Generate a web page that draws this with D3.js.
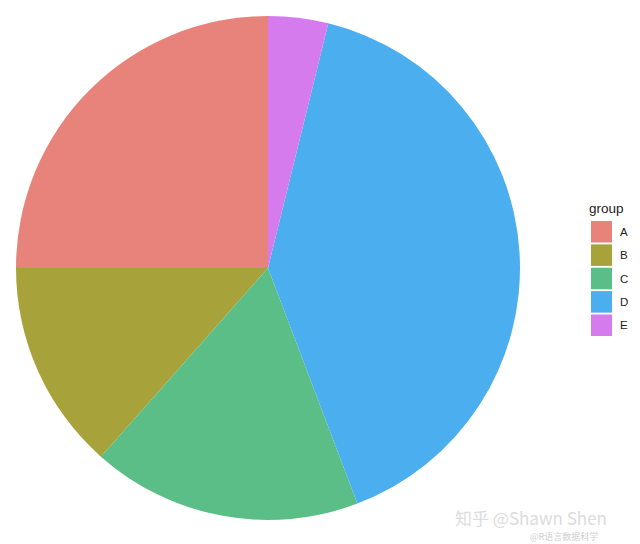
<!DOCTYPE html>
<html><head><meta charset="utf-8">
<script src="https://cdn.jsdelivr.net/npm/d3@7"></script>
<style>body{margin:0;background:#fff;}svg{display:block;}</style>
</head><body>
<svg id="chart" width="640" height="544"></svg>
<script>
const groups = ["A","B","C","D","E"];
const values = [13, 7, 9, 21, 2];
const colors = ["#E7837A","#A8A23A","#5BBE86","#4BAEEE","#D67BEE"];
const legendTitle = "group";

const svg = d3.select("#chart");
const cx = 268, cy = 268, r = 252;
const color = d3.scaleOrdinal().domain(groups).range(colors);
const pie = d3.pie().sort(null).value(d => d.v).startAngle(0).endAngle(-2*Math.PI);
const data = groups.map((g,i)=>({g, v: values[i]}));
const arc = d3.arc().innerRadius(0).outerRadius(r);
svg.append("g").attr("transform",`translate(${cx},${cy})`)
  .selectAll("path").data(pie(data)).join("path")
  .attr("d", arc).attr("fill", d => color(d.data.g));

const lg = svg.append("g").attr("transform","translate(589,0)");
lg.append("text").attr("x",0).attr("y",213).attr("font-family","Liberation Sans, Arial, sans-serif")
  .attr("font-size",13.5).attr("fill","#222").text(legendTitle);
const ky = d3.scaleBand().domain(groups).range([221,336]).paddingInner(0.08);
lg.selectAll("rect").data(groups).join("rect")
  .attr("x",2).attr("y",d=>ky(d)).attr("width",21).attr("height",ky.bandwidth())
  .attr("fill",d=>color(d));
lg.selectAll("text.lab").data(groups).join("text").attr("class","lab")
  .attr("x",31).attr("y",d=>ky(d)+ky.bandwidth()/2+4)
  .attr("font-family","Liberation Sans, Arial, sans-serif").attr("font-size",11.5).attr("fill","#222").text(d=>d);

svg.append("text").attr("x",455).attr("y",525)
  .attr("font-family","Noto Sans CJK SC, sans-serif").attr("font-size",17)
  .attr("fill","#dcdcdc").text("知乎 @Shawn Shen");
svg.append("text").attr("x",530).attr("y",540)
  .attr("font-family","Noto Sans CJK SC, sans-serif").attr("font-size",9)
  .attr("fill","#cfcfcf").text("@R语言数据科学");
</script>
</body></html>
